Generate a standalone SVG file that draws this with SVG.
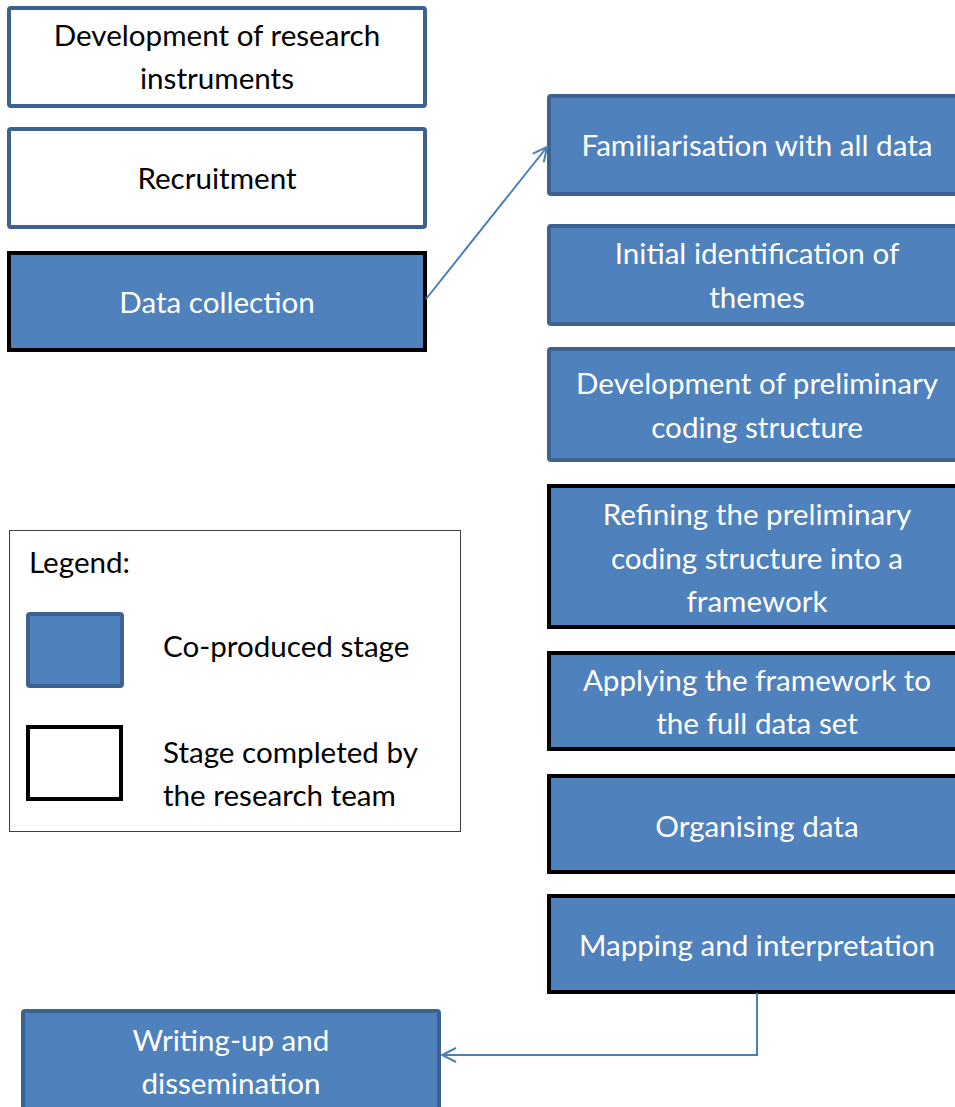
<svg xmlns="http://www.w3.org/2000/svg" width="955" height="1107" viewBox="0 0 955 1107">
  <style>
    .box { stroke-width: 4; }
    .plain { fill: #ffffff; stroke: #3d6191; }
    .co { fill: #4f81bd; stroke: #3d6191; }
    .co-team { fill: #4f81bd; stroke: #000000; }
    text { font-family: Lato, "Open Sans", "Liberation Sans", sans-serif; font-size: 29.6px; text-anchor: middle; }
    .dark { fill: #000000; }
    .light { fill: #ffffff; }
    .left { text-anchor: start; }
    .conn { fill: none; stroke: #4a7ebb; stroke-width: 2; }
  </style>
  <defs>
    <marker id="open-arrow" viewBox="0 0 16 16" refX="15" refY="8" markerWidth="16" markerHeight="16" markerUnits="userSpaceOnUse" orient="auto">
      <path d="M1,1 L15,8 L1,15" fill="none" stroke="#4a7ebb" stroke-width="2"/>
    </marker>
  </defs>
  <rect width="955" height="1107" fill="#ffffff"/>

  <!-- Left column: preparatory stages -->
  <g id="node-instruments">
    <rect class="box plain" x="9" y="8" width="416" height="98" rx="2"/>
    <text class="dark" x="217" y="46">Development of research</text>
    <text class="dark" x="217" y="89">instruments</text>
  </g>
  <g id="node-recruitment">
    <rect class="box plain" x="9" y="129" width="416" height="98" rx="2"/>
    <text class="dark" x="217" y="189">Recruitment</text>
  </g>
  <g id="node-data-collection">
    <rect class="box co-team" x="9" y="253" width="416" height="97"/>
    <text class="light" x="217" y="313">Data collection</text>
  </g>

  <!-- Right column: analysis stages -->
  <g id="node-familiarisation">
    <rect class="box co" x="549" y="96" width="420" height="98" rx="2"/>
    <text class="light" x="757" y="156">Familiarisation with all data</text>
  </g>
  <g id="node-initial-themes">
    <rect class="box co" x="549" y="226" width="420" height="98" rx="2"/>
    <text class="light" x="757" y="264">Initial identification of</text>
    <text class="light" x="757" y="308">themes</text>
  </g>
  <g id="node-preliminary">
    <rect class="box co" x="549" y="349" width="420" height="111" rx="2"/>
    <text class="light" x="757" y="394">Development of preliminary</text>
    <text class="light" x="757" y="438">coding structure</text>
  </g>
  <g id="node-refining">
    <rect class="box co-team" x="549" y="486" width="420" height="141"/>
    <text class="light" x="757" y="525">Refining the preliminary</text>
    <text class="light" x="757" y="569">coding structure into a</text>
    <text class="light" x="757" y="612">framework</text>
  </g>
  <g id="node-applying">
    <rect class="box co-team" x="549" y="653" width="420" height="96"/>
    <text class="light" x="757" y="691">Applying the framework to</text>
    <text class="light" x="757" y="734">the full data set</text>
  </g>
  <g id="node-organising">
    <rect class="box co-team" x="549" y="776" width="420" height="96"/>
    <text class="light" x="757" y="837">Organising data</text>
  </g>
  <g id="node-mapping">
    <rect class="box co-team" x="549" y="896" width="420" height="96"/>
    <text class="light" x="757" y="956">Mapping and interpretation</text>
  </g>

  <!-- Final stage -->
  <g id="node-writing-up">
    <rect class="box co" x="23" y="1011" width="416" height="110" rx="2"/>
    <text class="light" x="231" y="1051">Writing-up and</text>
    <text class="light" x="231" y="1094">dissemination</text>
  </g>

  <!-- Legend -->
  <g id="legend">
    <rect x="9.5" y="530.5" width="451" height="301" fill="#ffffff" stroke="#404040" stroke-width="1"/>
    <text class="dark left" x="29" y="573">Legend:</text>
    <rect x="28" y="614" width="94" height="72" rx="2" fill="#4f81bd" stroke="#3d6191" stroke-width="4"/>
    <text class="dark left" x="163" y="657">Co-produced stage</text>
    <rect x="28" y="727" width="93" height="72" fill="#ffffff" stroke="#000000" stroke-width="4"/>
    <text class="dark left" x="163" y="763">Stage completed by</text>
    <text class="dark left" x="163" y="806">the research team</text>
  </g>

  <!-- Connectors -->
  <g id="connectors">
    <path class="conn" d="M426,299 L547,147" marker-end="url(#open-arrow)"/>
    <path class="conn" d="M757,993 L757,1055 L442,1055" marker-end="url(#open-arrow)"/>
  </g>
</svg>
